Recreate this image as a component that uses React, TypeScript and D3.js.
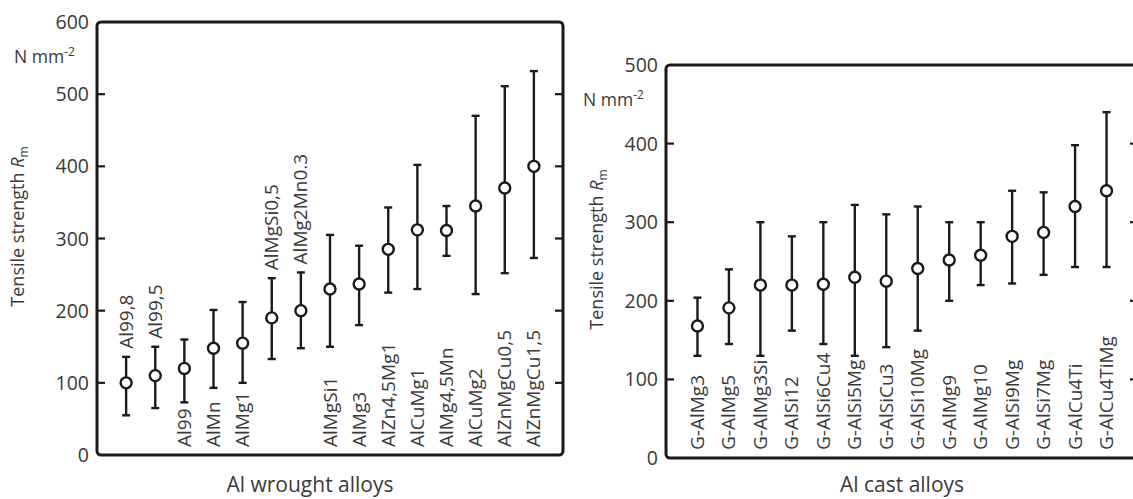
import React from 'react';
import * as d3 from 'd3';

// Left panel: Al wrought alloys (N mm-2)
const wroughtAlloys = [
    'Al99,8', 'Al99,5', 'Al99', 'AlMn', 'AlMg1', 'AlMgSi0,5', 'AlMg2Mn0.3', 'AlMgSi1',
    'AlMg3', 'AlZn4,5Mg1', 'AlCuMg1', 'AlMg4,5Mn', 'AlCuMg2', 'AlZnMgCu0,5', 'AlZnMgCu1,5'
];
const wroughtMean = [100, 110, 120, 148, 155, 190, 200, 230, 237, 285, 312, 311, 345, 370, 400];
const wroughtMin = [55, 65, 73, 93, 100, 133, 148, 150, 180, 225, 230, 276, 223, 252, 273];
const wroughtMax = [136, 150, 160, 201, 212, 245, 253, 305, 290, 343, 402, 345, 470, 511, 532];
const wroughtLabelAbove = [true, true, false, false, false, true, true, false, false, false, false, false, false, false, false];
const wroughtTicks = [0, 100, 200, 300, 400, 500, 600];

// Right panel: Al cast alloys (N mm-2)
const castAlloys = [
    'G-AlMg3', 'G-AlMg5', 'G-AlMg3Si', 'G-AlSi12', 'G-AlSi6Cu4', 'G-AlSi5Mg', 'G-AlSiCu3',
    'G-AlSi10Mg', 'G-AlMg9', 'G-AlMg10', 'G-AlSi9Mg', 'G-AlSi7Mg', 'G-AlCu4Ti', 'G-AlCu4TiMg'
];
const castMean = [168, 191, 220, 220, 221, 230, 225, 241, 252, 258, 282, 287, 320, 340];
const castMin = [130, 145, 130, 162, 145, 130, 141, 162, 200, 220, 222, 233, 243, 243];
const castMax = [204, 240, 300, 282, 300, 322, 310, 320, 300, 300, 340, 338, 398, 440];
const castTicks = [0, 100, 200, 300, 400, 500];

const FONT = '"Open Sans", sans-serif';
const TEXT = '#3a3a3a';
const INK = '#1a1a1a';

interface PanelProps {
    left: number;
    top: number;
    width: number;
    height: number;
    yMax: number;
    ticks: number[];
    names: string[];
    mean: number[];
    min: number[];
    max: number[];
    above?: boolean[];
    xTitle: string;
    xTitleX: number;
    yTitleX: number;
}

const Panel: React.FC<PanelProps> = (p) => {
    const right = p.left + p.width;
    const bottom = p.top + p.height;

    const x = d3.scalePoint<string>()
        .domain(p.names)
        .range([p.left, right])
        .padding(1);

    const y = d3.scaleLinear()
        .domain([0, p.yMax])
        .range([bottom, p.top]);

    const innerTicks = p.ticks.filter(t => t > 0 && t < p.yMax);

    return (
        <g>
            {/* tick labels */}
            {p.ticks.map(t => (
                <text key={'tl' + t} x={p.left - 8} y={y(t)} dy="0.36em" textAnchor="end"
                    fontSize={19.5} fill={TEXT}>{t}</text>
            ))}

            {/* unit */}
            <text x={p.left - 83} y={p.top + 41} fontSize={17.5} fill={TEXT}>
                N mm<tspan dy={-7} fontSize={12}>-2</tspan>
            </text>

            {/* y title */}
            <text transform={`translate(${p.yTitleX},${(p.top + bottom) / 2 - 12}) rotate(-90)`}
                textAnchor="middle" fontSize={18} fill={TEXT}>
                Tensile strength <tspan fontStyle="italic">R</tspan>
                <tspan dy={4} fontSize={12}>m</tspan>
            </text>

            {/* frame */}
            <rect x={p.left} y={p.top} width={p.width} height={p.height} rx={4}
                fill="none" stroke={INK} strokeWidth={3} />

            {/* ticks on both sides, pointing inward */}
            {innerTicks.map(t => (
                <g key={'tk' + t}>
                    <line x1={p.left} x2={p.left + 8} y1={y(t)} y2={y(t)} stroke={INK} strokeWidth={2.2} />
                    <line x1={right - 8} x2={right} y1={y(t)} y2={y(t)} stroke={INK} strokeWidth={2.2} />
                </g>
            ))}

            {/* error bars */}
            {p.names.map((n, i) => {
                const cx = x(n) as number;
                return (
                    <g key={n}>
                        <line x1={cx} x2={cx} y1={y(p.min[i])} y2={y(p.max[i])} stroke={INK} strokeWidth={2.4} />
                        <line x1={cx - 4} x2={cx + 4} y1={y(p.min[i])} y2={y(p.min[i])} stroke={INK} strokeWidth={2.4} />
                        <line x1={cx - 4} x2={cx + 4} y1={y(p.max[i])} y2={y(p.max[i])} stroke={INK} strokeWidth={2.4} />
                        <circle cx={cx} cy={y(p.mean[i])} r={5.5} fill="white" stroke={INK} strokeWidth={2.4} />
                    </g>
                );
            })}

            {/* category labels */}
            {p.names.map((n, i) => {
                const cx = (x(n) as number) + 6.5;
                const ly = p.above && p.above[i] ? y(p.max[i]) - 8 : bottom - 8;
                return (
                    <text key={'lb' + n} transform={`translate(${cx},${ly}) rotate(-90)`}
                        fontSize={19} fill={TEXT}>{n}</text>
                );
            })}

            {/* x title */}
            <text x={p.xTitleX} y={492} textAnchor="middle" fontSize={21} fill={TEXT}>{p.xTitle}</text>
        </g>
    );
};

const App: React.FC = () => {
    return (
        <svg width={1133} height={499} style={{ position: 'absolute', left: 0, top: 0, background: '#fff' }}
            fontFamily={FONT}>
            <Panel left={97} top={22} width={466} height={433} yMax={600} ticks={wroughtTicks}
                names={wroughtAlloys} mean={wroughtMean} min={wroughtMin} max={wroughtMax}
                above={wroughtLabelAbove} xTitle="Al wrought alloys" xTitleX={310} yTitleX={24} />
            <Panel left={666} top={65} width={472} height={393} yMax={500} ticks={castTicks}
                names={castAlloys} mean={castMean} min={castMin} max={castMax}
                xTitle="Al cast alloys" xTitleX={902} yTitleX={603} />
        </svg>
    );
};

export default App;
